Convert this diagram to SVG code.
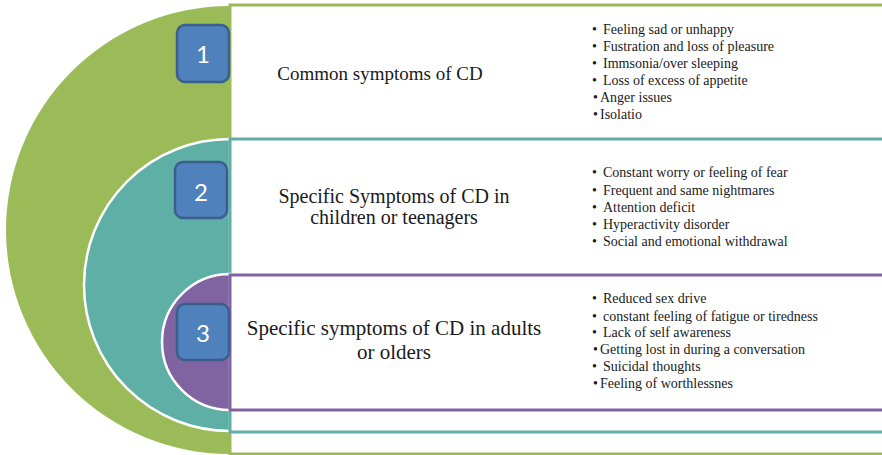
<svg xmlns="http://www.w3.org/2000/svg" width="882" height="455" viewBox="0 0 882 455">
<style>
.title{font-family:"Liberation Serif","Times New Roman",serif;font-size:20px;fill:#1a1a1a;text-anchor:middle}
.item{font-family:"Liberation Serif","Times New Roman",serif;font-size:14px;fill:#1a1a1a}
.badge rect{fill:#4F81BD;stroke:#3B5E8C;stroke-width:2.5}
.badge text{font-family:Lato,"Open Sans",sans-serif;font-size:24px;fill:#fff;text-anchor:middle}
</style>
<rect width="882" height="455" fill="#fff"/>
<g id="level1">
<path d="M230,6 A224,224 0 0 0 230,454 Z" fill="#9BBB59"/>
<rect x="230" y="5" width="660" height="449" fill="#fff" stroke="#9BBB59" stroke-width="3"/>
<text class="title" x="380" y="80" style="font-size:19px">Common symptoms of CD</text>
<g class="item">
<text x="592" y="34">•</text><text x="603" y="34">Feeling sad or unhappy</text>
<text x="592" y="51">•</text><text x="603" y="51">Fustration and loss of pleasure</text>
<text x="592" y="68">•</text><text x="603" y="68">Immsonia/over sleeping</text>
<text x="592" y="85">•</text><text x="603" y="85">Loss of excess of appetite</text>
<text x="593" y="102">•</text><text x="600" y="102">Anger issues</text>
<text x="593" y="119">•</text><text x="600" y="119">Isolatio</text>
</g>
</g>
<g id="level2">
<path d="M230,139 A146,146 0 0 0 230,431 Z" fill="#5EAFA5" stroke="#fff" stroke-width="2.5"/>
<rect x="230" y="139" width="660" height="293" fill="#fff" stroke="#5EAFA5" stroke-width="3"/>
<text class="title" x="394" y="203">Specific Symptoms of CD in</text>
<text class="title" x="394" y="224">children or teenagers</text>
<g class="item">
<text x="592" y="177">•</text><text x="603" y="177">Constant worry or feeling of fear</text>
<text x="592" y="195">•</text><text x="603" y="195">Frequent and same nightmares</text>
<text x="592" y="212">•</text><text x="603" y="212">Attention deficit</text>
<text x="592" y="229">•</text><text x="603" y="229">Hyperactivity disorder</text>
<text x="592" y="246">•</text><text x="603" y="246">Social and emotional withdrawal</text>
</g>
</g>
<g id="level3">
<path d="M230,274 A68,68 0 0 0 230,410 Z" fill="#8064A2" stroke="#fff" stroke-width="2.5"/>
<rect x="230" y="275" width="660" height="135" fill="#fff" stroke="#8064A2" stroke-width="3"/>
<text class="title" x="394" y="335" style="font-size:21px">Specific symptoms of CD in adults</text>
<text class="title" x="394" y="359" style="font-size:21px">or olders</text>
<g class="item">
<text x="592" y="303">•</text><text x="603" y="303">Reduced sex drive</text>
<text x="592" y="321">•</text><text x="603" y="321">constant feeling of fatigue or tiredness</text>
<text x="592" y="337">•</text><text x="603" y="337">Lack of self awareness</text>
<text x="593" y="354">•</text><text x="600" y="354">Getting lost in during a conversation</text>
<text x="592" y="371">•</text><text x="603" y="371">Suicidal thoughts</text>
<text x="593" y="388">•</text><text x="600" y="388">Feeling of worthlessnes</text>
</g>
</g>
<g id="badge1" class="badge"><rect x="177" y="25" width="52" height="57" rx="8"/><text x="203" y="63">1</text></g>
<g id="badge2" class="badge"><rect x="175" y="162" width="52" height="56" rx="8"/><text x="201" y="201">2</text></g>
<g id="badge3" class="badge"><rect x="177" y="304" width="52" height="56" rx="8"/><text x="203" y="342">3</text></g>
<g id="connectors"></g>
</svg>
